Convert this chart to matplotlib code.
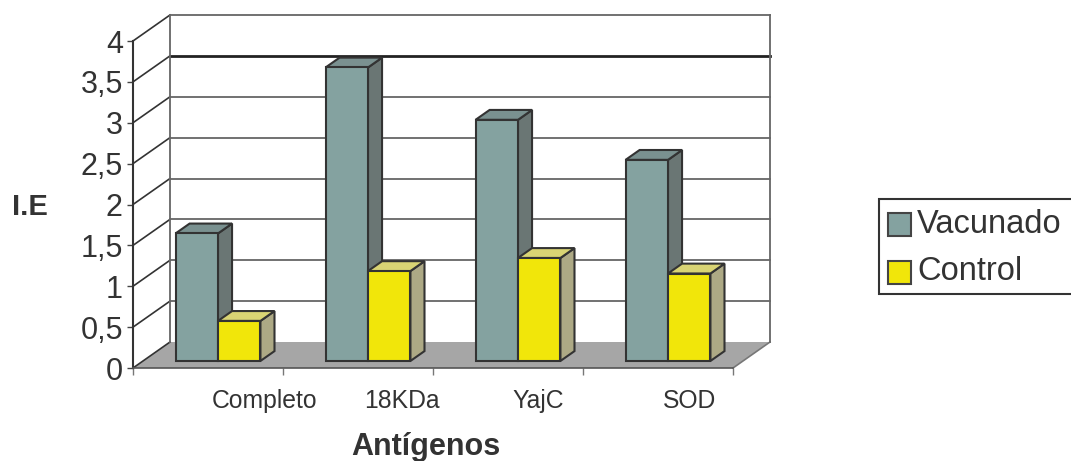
import matplotlib.pyplot as plt
from matplotlib.patches import Polygon, Rectangle

# I.E por antígeno
antigenos = ['Completo', '18KDa', 'YajC', 'SOD']
vacunado = [1.56, 3.59, 2.95, 2.46]
control = [0.49, 1.10, 1.26, 1.07]
y_ticks = [0, 0.5, 1, 1.5, 2, 2.5, 3, 3.5, 4]
y_labels = ['0', '0,5', '1', '1,5', '2', '2,5', '3', '3,5', '4']

plt.rcParams['font.family'] = ['Liberation Sans', 'DejaVu Sans']
txt = '#333333'

# depth of the fake 3d box, in data units
DX, DY = 37 / 150, 26 / 81.75
T0, T1 = 0.27, 0.65       # front/back depth of the bars
BW = 0.283                # bar width

def p(x, y, t):
    return (x + t * DX, y + t * DY)

W, H = 1071, 461
fig = plt.figure(figsize=(W / 100, H / 100), dpi=100)
ax = fig.add_axes([133 / W, 93 / H, 600 / W, 327 / H])
ax.set_xlim(0, 4)
ax.set_ylim(0, 4)
for s in ['top', 'right']:
    ax.spines[s].set_visible(False)
ax.spines['left'].set_color('#333333')
ax.spines['left'].set_linewidth(1.5)
ax.spines['bottom'].set_color('#555555')
ax.spines['bottom'].set_linewidth(1.2)
ax.spines['bottom'].set_zorder(4)
ax.patch.set_visible(False)

ax.set_yticks(y_ticks)
ax.set_yticklabels(y_labels, fontsize=22, color=txt)
ax.set_xticks(range(5))
ax.set_xticklabels([])
ax.tick_params(axis='y', direction='out', length=4.3, width=1, color='#444444', pad=3)
ax.tick_params(axis='x', direction='out', length=5, width=1, color='#777777')

# floor
floor = Polygon([p(0, 0, 0), p(4, 0, 0), p(4, 0, 1), p(0, 0, 1)], closed=True,
                facecolor='#a6a6a6', edgecolor='none', clip_on=False, zorder=1)
ax.add_patch(floor)
ax.plot(*zip(p(4, 0, 0), p(4, 0, 1)), color='#777777', lw=1.2, clip_on=False, zorder=2)

# side wall and back wall grid
for v in y_ticks:
    ax.plot(*zip(p(0, v, 0), p(0, v, 1)), color='#333333', lw=1.2, clip_on=False, zorder=2)
    if v == 0:
        continue
    lw, col = (2.0, '#222222') if v == 3.5 else (1.3, '#666666')
    ax.plot(*zip(p(0, v, 1), p(4, v, 1)), color=col, lw=lw, clip_on=False, zorder=2)
for x in [0, 4]:
    ax.plot(*zip(p(x, 0, 1), p(x, 4, 1)), color='#666666', lw=1.3, clip_on=False, zorder=2)

# bars
series = [
    (vacunado, 0.5 - BW, ('#84a2a0', '#7a9190', '#6a7674')),
    (control, 0.5, ('#f1e60a', '#d9d474', '#ada985')),
]
for i in range(len(antigenos)):
    for vals, off, (front, top, side) in series:
        v = vals[i]
        x0, x1 = i + off, i + off + BW
        faces = [
            ([p(x1, 0, T0), p(x1, v, T0), p(x1, v, T1), p(x1, 0, T1)], side),
            ([p(x0, v, T0), p(x1, v, T0), p(x1, v, T1), p(x0, v, T1)], top),
            ([p(x0, 0, T0), p(x1, 0, T0), p(x1, v, T0), p(x0, v, T0)], front),
        ]
        for pts, fc in faces:
            ax.add_patch(Polygon(pts, closed=True, facecolor=fc, edgecolor='#333333',
                                 lw=1.5, joinstyle='miter', clip_on=False, zorder=3))

# category labels
label_x = [0.88, 1.79, 2.70, 3.71]
for lx, name in zip(label_x, antigenos):
    ax.text(lx, -0.4, name, fontsize=17.8, color=txt, ha='center', va='center')

fig.text(426 / W, 1 - 447 / H, 'Antígenos', fontsize=22, fontweight='bold',
         color=txt, ha='center', va='center')
fig.text(30 / W, 1 - 207 / H, 'I.E', fontsize=21, fontweight='bold',
         color=txt, ha='center', va='center')

# legend
def fx(x):
    return x / W

def fy(y):
    return 1 - y / H

fig.patches.append(Rectangle((fx(879), fy(294)), fx(1100) - fx(879), fy(199) - fy(294),
                             transform=fig.transFigure, facecolor='white',
                             edgecolor='#333333', lw=1.5))
for (name, col), yc in zip([('Vacunado', '#84a2a0'), ('Control', '#f1e60a')], [224.5, 272]):
    fig.patches.append(Rectangle((fx(888), fy(yc + 11.5)), fx(23), 23 / H,
                                 transform=fig.transFigure, facecolor=col,
                                 edgecolor='#444444', lw=1.5))
    fig.text(fx(917), fy(yc), name, fontsize=23.5, color=txt, ha='left', va='center')

fig.savefig('out.png', dpi=100)
